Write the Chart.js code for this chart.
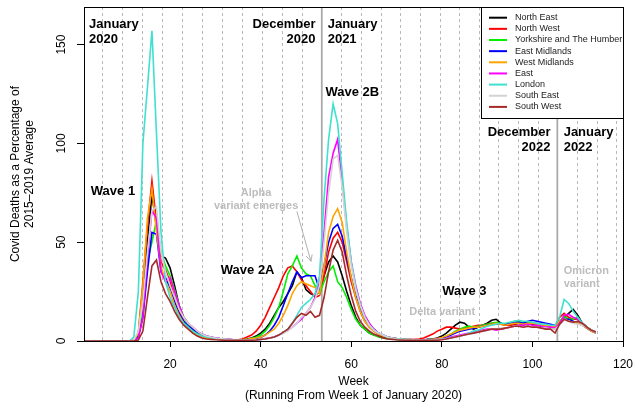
<!DOCTYPE html>
<html>
<head>
<meta charset="utf-8">
<script src="https://cdn.jsdelivr.net/npm/chart.js@4.4.1/dist/chart.umd.min.js"></script>
<style>
  html, body { margin: 0; padding: 0; background: #fff; }
</style>
</head>
<body>
<canvas id="covidChart" width="635" height="404"></canvas>
<script>
// weeks running from week 1 of January 2020
const weeks = [
  1, 2, 3, 4, 5, 6, 7, 8, 9, 10,
  11, 12, 13, 14, 15, 16, 17, 18, 19, 20,
  21, 22, 23, 24, 25, 26, 27, 28, 29, 30,
  31, 32, 33, 34, 35, 36, 37, 38, 39, 40,
  41, 42, 43, 44, 45, 46, 47, 48, 49, 50,
  51, 52, 53, 54, 55, 56, 57, 58, 59, 60,
  61, 62, 63, 64, 65, 66, 67, 68, 69, 70,
  71, 72, 73, 74, 75, 76, 77, 78, 79, 80,
  81, 82, 83, 84, 85, 86, 87, 88, 89, 90,
  91, 92, 93, 94, 95, 96, 97, 98, 99, 100,
  101, 102, 103, 104, 105, 106, 107, 108, 109, 110,
  111, 112, 113, 114
];

const northEast = [
  0, 0, 0, 0, 0, 0, 0, 0, 0, 0,
  0, 0.3, 3, 25, 50, 74, 58, 43, 42, 37,
  28, 18, 12, 9, 6, 4, 2.5, 2, 1.5, 1,
  1, 0.8, 0.6, 0.5, 0.5, 0.6, 1, 1.5, 2.5, 4,
  6, 9, 13, 17, 20, 24, 28, 35, 32, 26,
  24, 23, 25, 33, 40, 43, 40, 33, 25, 18,
  12, 8, 6, 4, 3, 2.5, 2, 1.5, 1, 0.8,
  0.6, 0.5, 0.5, 0.5, 0.5, 0.5, 0.8, 1, 1.5, 2.5,
  4, 6, 8, 9.5, 9, 7, 6, 7, 8, 9,
  10.5, 11, 9, 8, 8, 8.5, 9, 8, 9, 8.5,
  8, 7.5, 8, 7.5, 6, 9, 12, 14, 16, 13,
  9, 7, 5.5, 4.5
];

const northWest = [
  0, 0, 0, 0, 0, 0, 0, 0, 0, 0,
  0, 0.3, 4, 30, 58, 81, 60, 40, 36, 30,
  22, 15, 10, 7, 4.5, 3, 2, 1.5, 1.2, 1,
  0.8, 0.6, 0.5, 0.5, 0.6, 1, 2, 3, 5, 8,
  12, 17, 22, 27, 33, 37, 38, 35, 31, 28,
  25, 22, 23, 33, 45, 52, 55, 50, 40, 30,
  22, 15, 10, 7, 5, 3.5, 2.5, 2, 1.5, 1.2,
  1, 0.8, 0.7, 0.8, 1, 1.5, 2.5, 3.5, 5, 6,
  7, 7, 6.5, 6, 6.5, 7, 7.5, 8, 8, 8.5,
  9, 9, 8.5, 8, 8, 8.5, 9, 8.5, 9, 9,
  8.5, 8, 8, 7.5, 7, 12, 14, 12, 11, 11,
  9, 7, 5.5, 4.5
];

const yorkshire = [
  0, 0, 0, 0, 0, 0, 0, 0, 0, 0,
  0, 0.2, 2, 15, 40, 50, 61, 45, 38, 33,
  26, 18, 12, 8, 5.5, 4, 2.5, 2, 1.5, 1.2,
  1, 0.8, 0.6, 0.5, 0.5, 0.6, 0.8, 1.2, 2, 3,
  5, 8, 12, 17, 25, 34, 38, 43, 37, 34,
  33, 28, 24, 30, 35, 38, 30, 27, 22, 16,
  11, 8, 6, 4, 3, 2, 1.5, 1.2, 1, 0.8,
  0.6, 0.5, 0.5, 0.5, 0.5, 0.5, 0.6, 0.8, 1, 1.5,
  2.5, 3.5, 5, 6, 7, 7.5, 7, 7.5, 8, 8.5,
  9, 9.5, 9, 8.5, 9, 10, 10, 9, 9.5, 9,
  9, 8.5, 8, 7, 6.5, 10, 12.5, 11, 11, 12,
  9, 7, 5.5, 4.5
];

const eastMidlands = [
  0, 0, 0, 0, 0, 0, 0, 0, 0, 0,
  0, 0.2, 2, 12, 35, 55, 54, 35, 32, 27,
  20, 14, 10, 7.5, 6, 4.5, 3.5, 2.5, 2, 1.5,
  1.2, 1, 0.8, 0.6, 0.5, 0.5, 0.6, 0.8, 1.2, 2,
  3, 5, 8, 12, 18, 24, 30, 35, 32, 33,
  33, 33, 26, 38, 50, 57, 59, 53, 42, 32,
  23, 16, 11, 8, 6, 4, 3, 2, 1.5, 1.2,
  1, 0.8, 0.7, 0.6, 0.6, 0.6, 0.7, 0.8, 1, 1.5,
  2, 3, 4, 5, 5.5, 6, 6.5, 7, 7.5, 8,
  8.5, 8.5, 9, 8.5, 9, 9.5, 9.5, 9, 10, 10.5,
  10, 9.5, 9, 8.5, 8, 8.5, 11, 11, 10, 9,
  8, 6.5, 5, 4
];

const westMidlands = [
  0, 0, 0, 0, 0, 0, 0, 0, 0, 0,
  0, 0.3, 4, 28, 62, 77, 55, 38, 30, 25,
  18, 13, 9, 6.5, 4.5, 3, 2, 1.5, 1.2, 1,
  0.8, 0.6, 0.5, 0.5, 0.5, 0.6, 0.8, 1.2, 1.5, 2,
  3, 4.5, 6, 9, 13, 18, 24, 28, 30, 29,
  28, 27, 24, 38, 55, 63, 67, 60, 45, 32,
  22, 15, 10, 7, 5, 3.5, 2.5, 2, 1.5, 1.2,
  1, 0.8, 0.7, 0.6, 0.6, 0.6, 0.7, 0.9, 1.2, 1.8,
  2.5, 3.5, 4.5, 5.5, 6, 6.5, 7, 7, 7.5, 8,
  8.5, 9, 8.5, 8, 8.5, 9, 9, 8.5, 9, 9,
  8.5, 8, 8, 7.5, 7, 10, 11, 10, 9.5, 9,
  8, 6.5, 5, 4
];

const east = [
  0, 0, 0, 0, 0, 0, 0, 0, 0, 0,
  0, 0.2, 1.5, 12, 42, 66, 62, 35, 30, 32,
  25, 18, 12, 9, 7, 5, 3.5, 2.5, 2, 1.5,
  1.2, 1, 0.8, 0.6, 0.5, 0.5, 0.5, 0.5, 0.5, 0.8,
  1.2, 1.5, 2, 3, 4, 5.5, 7, 9, 11, 14,
  17, 22, 30, 55, 83, 95, 102, 80, 58, 40,
  28, 19, 13, 9, 6, 4, 3, 2, 1.5, 1,
  0.8, 0.6, 0.5, 0.5, 0.5, 0.5, 0.5, 0.6, 0.8, 1,
  1.5, 2, 2.5, 3, 3.5, 4, 4.5, 5, 5.5, 6,
  6, 5.5, 6, 6.5, 7, 7.5, 8, 8, 8.5, 8,
  8, 7.5, 7, 7, 6.5, 9, 13, 13.5, 12, 11,
  9, 7, 5.5, 4.5
];

const london = [
  0, 0, 0, 0, 0, 0, 0, 0, 0, 0,
  0, 2, 25, 100, 128, 157, 105, 55, 30, 22,
  17, 12, 9, 7, 5, 3.5, 2.5, 2, 1.5, 1.2,
  1, 0.8, 0.6, 0.5, 0.5, 0.5, 0.5, 0.5, 0.6, 0.8,
  1, 1.5, 2, 3, 4, 6, 9, 13, 17, 19,
  21, 24, 33, 72, 102, 120, 110, 85, 60, 40,
  27, 18, 12, 8, 5.5, 4, 3, 2, 1.5, 1.2,
  1, 0.8, 0.6, 0.5, 0.5, 0.5, 0.5, 0.6, 0.7, 0.9,
  1.2, 1.6, 2, 2.5, 3, 4, 5, 5.5, 6.5, 7.5,
  8, 8.5, 9, 9, 9.5, 10, 10.5, 10, 10, 9.5,
  9, 8.5, 8.5, 8, 8, 12, 21, 19, 15, 12,
  9, 7, 5.5, 4.5
];

const southEast = [
  0, 0, 0, 0, 0, 0, 0, 0, 0, 0,
  0, 0.5, 5, 20, 45, 66, 68, 45, 35, 28,
  22, 16, 12, 9, 7, 5, 3.5, 2.5, 2, 1.5,
  1.2, 1, 0.8, 0.6, 0.5, 0.5, 0.5, 0.5, 0.6, 0.8,
  1, 1.5, 2, 3, 4, 5, 7, 9, 12, 14,
  17, 21, 28, 50, 75, 92, 94, 78, 55, 38,
  26, 18, 12, 8, 5.5, 4, 3, 2, 1.5, 1,
  0.8, 0.6, 0.5, 0.5, 0.5, 0.5, 0.5, 0.5, 0.6, 0.8,
  1, 1.5, 2, 2.5, 3, 3.5, 4, 4.5, 5, 5.5,
  6, 6, 6.5, 6.5, 7, 7.5, 7.5, 7, 7.5, 7,
  7, 6.5, 6.5, 6, 6, 8, 11, 10, 9, 8.5,
  8, 7, 5.5, 4.5
];

const southWest = [
  0, 0, 0, 0, 0, 0, 0, 0, 0, 0,
  0, 0, 0.5, 5, 22, 38, 41, 30, 24, 20,
  15, 11, 8, 6, 4, 2.5, 1.5, 1, 0.8, 0.6,
  0.5, 0.4, 0.3, 0.3, 0.3, 0.3, 0.3, 0.4, 0.5, 0.8,
  1, 1.5, 2, 3, 4.5, 6, 9, 12, 14, 13,
  15, 12, 13, 22, 35, 46, 51, 45, 33, 23,
  15, 10, 7, 5, 3.5, 2.5, 1.5, 1, 0.8, 0.6,
  0.5, 0.4, 0.3, 0.3, 0.3, 0.3, 0.3, 0.3, 0.4, 0.6,
  1, 1.5, 2, 2.5, 3, 3.5, 4, 4.5, 5, 5.5,
  6, 6, 6, 6.5, 7, 7.5, 7.5, 7, 7.5, 7,
  7, 6.5, 6, 6, 4, 8.5, 11, 10, 9.5, 10,
  9, 7, 5.5, 4.5
];

const regionNames = ['North East', 'North West', 'Yorkshire and The Humber', 'East Midlands',
  'West Midlands', 'East', 'London', 'South East', 'South West'];
const regionValues = [northEast, northWest, yorkshire, eastMidlands, westMidlands, east, london, southEast, southWest];
const regionColors = ['#000000', '#ff0000', '#00ee00', '#0000ff', '#ffa500', '#ff00ff', '#40e0d0', '#d3d3d3', '#a52a2a'];

const xTicks = [20, 40, 60, 80, 100, 120];
const yTicks = [0, 50, 100, 150];

// start week and length of each year, for the month lines
const yearSpans = [[0.5, 53], [53.5, 52], [105.5, 52]];
const yearBreaks = [53.5, 105.5];

const fontFamily = '"Liberation Sans", Arial, Helvetica, sans-serif';

// text notes on the plot, in data units
const notes = [
  { lines: ['January', '2020'], x: 2.1, y: 160, align: 'left', grey: false },
  { lines: ['December', '2020'], x: 52.1, y: 160, align: 'right', grey: false },
  { lines: ['January', '2021'], x: 54.8, y: 160, align: 'left', grey: false },
  { lines: ['Wave 2B'], x: 54.3, y: 125.7, align: 'left', grey: false },
  { lines: ['Wave 1'], x: 2.5, y: 75.8, align: 'left', grey: false },
  { lines: ['Wave 2A'], x: 31.2, y: 35.9, align: 'left', grey: false },
  { lines: ['Alpha', 'variant emerges'], x: 39, y: 75, align: 'center', grey: true },
  { lines: ['Wave 3'], x: 80.1, y: 25.3, align: 'left', grey: false },
  { lines: ['Delta variant'], x: 72.8, y: 14.9, align: 'left', grey: true },
  { lines: ['December', '2022'], x: 104, y: 105.5, align: 'right', grey: false },
  { lines: ['January', '2022'], x: 106.9, y: 105.5, align: 'left', grey: false },
  { lines: ['Omicron', 'variant'], x: 106.9, y: 35.4, align: 'left', grey: true }
];

const decorations = {
  id: 'decorations',
  beforeDatasetsDraw(chart) {
    const { ctx, chartArea: a, scales: { x } } = chart;
    ctx.save();
    ctx.beginPath();
    ctx.rect(a.left, a.top, a.width, a.height);
    ctx.clip();
    ctx.strokeStyle = '#b8b8b8';
    ctx.lineWidth = 1;
    ctx.setLineDash([3, 3]);
    yearSpans.forEach(([start, len]) => {
      for (let k = 1; k < 12; k++) {
        const px = Math.round(x.getPixelForValue(start + k * len / 12)) + 0.5;
        ctx.beginPath();
        ctx.moveTo(px, a.top);
        ctx.lineTo(px, a.bottom);
        ctx.stroke();
      }
    });
    ctx.setLineDash([]);
    ctx.strokeStyle = '#aaaaaa';
    ctx.lineWidth = 1.8;
    yearBreaks.forEach(w => {
      const px = x.getPixelForValue(w);
      ctx.beginPath();
      ctx.moveTo(px, a.top);
      ctx.lineTo(px, a.bottom);
      ctx.stroke();
    });
    ctx.restore();
  },
  afterDatasetsDraw(chart) {
    const { ctx, chartArea: a, scales: { x, y } } = chart;
    ctx.save();

    // notes
    notes.forEach(n => {
      ctx.fillStyle = n.grey ? '#bdbdbd' : '#000';
      ctx.font = 'bold ' + (n.grey ? 11 : 13) + 'px ' + fontFamily;
      ctx.textAlign = n.align;
      ctx.textBaseline = 'middle';
      const step = n.grey ? 13 : 15;
      n.lines.forEach((t, i) => {
        ctx.fillText(t, x.getPixelForValue(n.x), y.getPixelForValue(n.y) + i * step);
      });
    });

    // arrow for alpha variant
    const x0 = x.getPixelForValue(48), y0 = y.getPixelForValue(65.6);
    const x1 = x.getPixelForValue(51.1), y1 = y.getPixelForValue(40.3);
    ctx.strokeStyle = '#b0b0b0';
    ctx.lineWidth = 1;
    ctx.beginPath();
    ctx.moveTo(x0, y0);
    ctx.lineTo(x1, y1);
    const ang = Math.atan2(y1 - y0, x1 - x0);
    ctx.moveTo(x1 - 7 * Math.cos(ang - 0.45), y1 - 7 * Math.sin(ang - 0.45));
    ctx.lineTo(x1, y1);
    ctx.lineTo(x1 - 7 * Math.cos(ang + 0.45), y1 - 7 * Math.sin(ang + 0.45));
    ctx.stroke();

    // legend
    const lx = 481, ly = a.top, lw = a.right - 481, lh = 111;
    ctx.fillStyle = '#fff';
    ctx.fillRect(lx, ly, lw, lh);
    ctx.strokeStyle = '#000';
    ctx.lineWidth = 1;
    ctx.strokeRect(lx + 0.5, ly + 0.5, lw, lh);
    ctx.font = '9px ' + fontFamily;
    ctx.textAlign = 'left';
    ctx.textBaseline = 'middle';
    chart.data.datasets.forEach((ds, i) => {
      const ry = ly + 10.7 + i * 11.15;
      ctx.strokeStyle = ds.borderColor;
      ctx.lineWidth = 2;
      ctx.beginPath();
      ctx.moveTo(489, ry);
      ctx.lineTo(507, ry);
      ctx.stroke();
      ctx.fillStyle = '#222';
      ctx.fillText(ds.label, 515, ry);
    });

    // box
    ctx.strokeStyle = '#000';
    ctx.lineWidth = 1;
    ctx.strokeRect(Math.round(a.left) + 0.5, Math.round(a.top) + 0.5, Math.round(a.width), Math.round(a.height));

    // y tick labels, rotated like R
    ctx.fillStyle = '#000';
    ctx.font = '12px ' + fontFamily;
    ctx.textAlign = 'center';
    ctx.textBaseline = 'middle';
    yTicks.forEach(v => {
      ctx.save();
      ctx.translate(62, y.getPixelForValue(v));
      ctx.rotate(-Math.PI / 2);
      ctx.fillText(String(v), 0, 0);
      ctx.restore();
    });

    // axis titles
    ctx.save();
    ctx.translate(16, (a.top + a.bottom) / 2);
    ctx.rotate(-Math.PI / 2);
    ctx.fillText('Covid Deaths as a Percentage of', 0, 0);
    ctx.fillText('2015\u20132019 Average', 0, 14);
    ctx.restore();
    const cx = (a.left + a.right) / 2;
    ctx.fillText('Week', cx, 382);
    ctx.fillText('(Running From Week 1 of January 2020)', cx, 396);
    ctx.restore();
  }
};

const datasets = regionNames.map((name, i) => ({
  label: name,
  data: weeks.map((w, j) => ({ x: w, y: regionValues[i][j] })),
  borderColor: regionColors[i],
  backgroundColor: regionColors[i],
  borderWidth: 1.6,
  pointRadius: 0,
  tension: 0,
  order: regionNames.length - i
}));

const ctx = document.getElementById('covidChart').getContext('2d');
const covidChart = new Chart(ctx, {
  type: 'line',
  data: { datasets: datasets },
  options: {
    responsive: false,
    animation: false,
    layout: { padding: { top: 7, right: 12, left: 0, bottom: 0 } },
    plugins: { legend: { display: false }, tooltip: { enabled: false } },
    scales: {
      x: {
        type: 'linear',
        min: 1,
        max: 120,
        afterBuildTicks: scale => { scale.ticks = xTicks.map(v => ({ value: v })); },
        afterFit: scale => {
          scale.height = 63;
          scale.paddingLeft = 0;
          scale.paddingRight = 0;
        },
        grid: { drawOnChartArea: false, drawTicks: true, tickLength: 6, color: '#000' },
        border: { display: false },
        ticks: { color: '#000', padding: 10, maxRotation: 0, font: { family: fontFamily, size: 12 } }
      },
      y: {
        min: 0,
        max: 169,
        afterBuildTicks: scale => { scale.ticks = yTicks.map(v => ({ value: v })); },
        afterFit: scale => {
          scale.width = 84;
          scale.paddingTop = 0;
          scale.paddingBottom = 0;
        },
        grid: { drawOnChartArea: false, drawTicks: true, tickLength: 7, color: '#000' },
        border: { display: false },
        ticks: { display: false }
      }
    }
  },
  plugins: [decorations]
});
</script>
</body>
</html>
